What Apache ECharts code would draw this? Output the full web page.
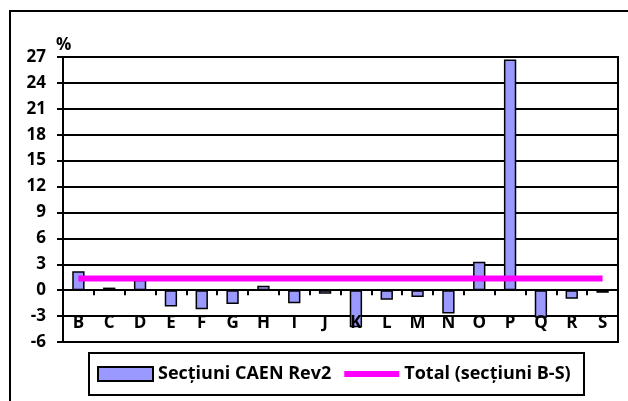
<!DOCTYPE html>
<html>
<head>
<meta charset="utf-8">
<script src="https://cdn.jsdelivr.net/npm/echarts@6/dist/echarts.min.js"></script>
<style>html,body{margin:0;padding:0;background:#fff;}#c{width:628px;height:401px;}</style>
</head>
<body>
<div id="c"></div>
<script>
const categories = ['B','C','D','E','F','G','H','I','J','K','L','M','N','O','P','Q','R','S'];
const sectionValues = [2.2, 0.3, 1.2, -1.9, -2.2, -1.6, 0.5, -1.5, -0.4, -4.3, -1.1, -0.8, -2.7, 3.3, 26.7, -3.2, -1.0, -0.3];
const totalValue = 1.35;
const totalValues = categories.map(() => totalValue);
const seriesNames = ['Secțiuni CAEN Rev2', 'Total (secțiuni B-S)'];
const yMin = -6, yMax = 27, yStep = 3;

const FONT = '"Open Sans", sans-serif';
const chart = echarts.init(document.getElementById('c'), null, {renderer: 'canvas'});
chart.setOption({
  animation: false,
  backgroundColor: '#fff',
  graphic: [
    {type: 'rect', shape: {x: 10, y: 11, width: 640, height: 420}, style: {fill: 'none', stroke: '#000', lineWidth: 2}, z: 0},
    {type: 'rect', shape: {x: 89, y: 353, width: 495, height: 42}, style: {fill: '#fff', stroke: '#000', lineWidth: 2}, z: 1}
  ],
  grid: {left: 63, right: 10, top: 57, bottom: 59, show: true, borderColor: '#000', borderWidth: 2, backgroundColor: 'transparent'},
  legend: {
    left: 92, top: 360, itemWidth: 55, itemHeight: 14, itemGap: 13,
    textStyle: {fontFamily: FONT, fontWeight: 'bold', fontSize: 18, color: '#000'},
    data: [
      {name: seriesNames[0], icon: 'rect'},
      {name: seriesNames[1], icon: 'path://M0,0 L0.01,0 L0,0.01 Z M0,4 L55,4 L55,10 L0,10 Z M0,14 L0.01,14 L0,13.99 Z',
       itemStyle: {color: '#ff00ff', borderWidth: 0}}
    ],
    z: 5
  },
  xAxis: {
    type: 'category', data: categories,
    axisLine: {onZero: true, lineStyle: {color: '#000', width: 2}},
    axisTick: {show: true, length: 5, lineStyle: {color: '#000', width: 2}},
    axisLabel: {margin: -27, fontFamily: FONT, fontWeight: 'bold', fontSize: 17, color: '#000', interval: 0},
    z: 3
  },
  yAxis: {
    type: 'value', min: yMin, max: yMax, interval: yStep,
    name: '%', nameLocation: 'end', nameGap: 3,
    nameTextStyle: {fontFamily: FONT, fontWeight: 'bold', fontSize: 17, color: '#000', align: 'left', padding: [0, 0, 0, -7]},
    axisLine: {show: true, lineStyle: {color: '#000', width: 2}},
    axisTick: {show: true, length: 6, lineStyle: {color: '#000', width: 2}},
    axisLabel: {margin: 17, fontFamily: FONT, fontWeight: 'bold', fontSize: 17, color: '#000'},
    splitLine: {show: true, lineStyle: {color: '#000', width: 2}}
  },
  series: [
    {
      name: seriesNames[0], type: 'bar', data: sectionValues, barWidth: '40%',
      itemStyle: {color: '#9999ff', borderColor: '#000', borderWidth: 1.5}, z: 2
    },
    {
      name: seriesNames[1], type: 'line', data: totalValues, symbol: 'none', showSymbol: false,
      lineStyle: {color: '#ff00ff', width: 6}, itemStyle: {color: '#ff00ff'}, z: 4
    }
  ]
});
</script>
</body>
</html>
